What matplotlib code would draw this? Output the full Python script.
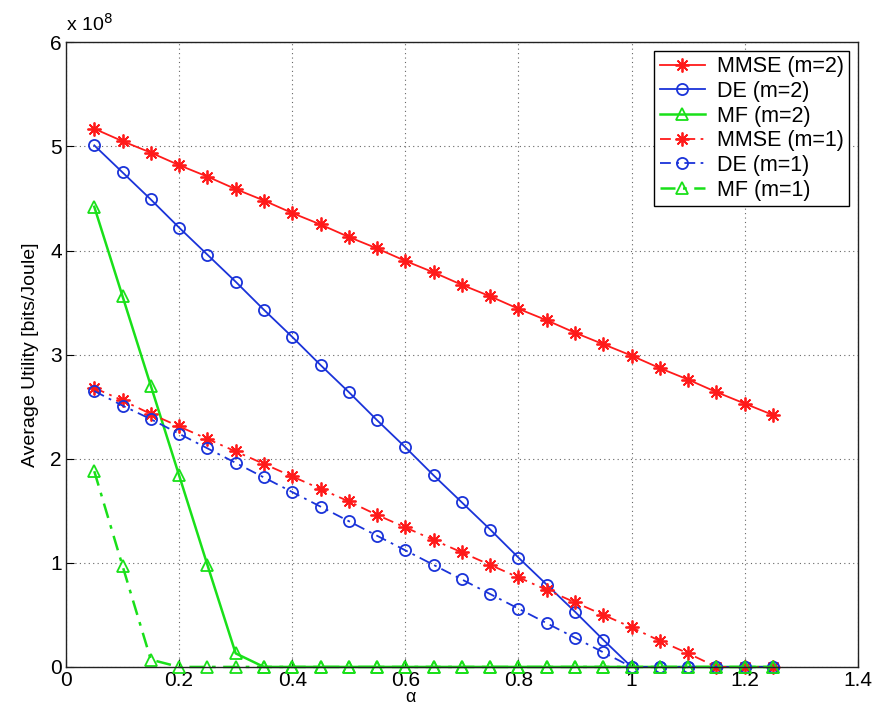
import matplotlib
matplotlib.use("Agg")
import matplotlib.pyplot as plt

plt.rcParams['font.family'] = ['Liberation Sans', 'DejaVu Sans']

alpha = [0.05, 0.10, 0.15, 0.20, 0.25, 0.30, 0.35, 0.40, 0.45, 0.50, 0.55, 0.60, 0.65,
         0.70, 0.75, 0.80, 0.85, 0.90, 0.95, 1.00, 1.05, 1.10, 1.15, 1.20, 1.25]

# values in units of 1e8 bits/Joule
mmse_m2 = [5.17, 5.05, 4.94, 4.82, 4.71, 4.59, 4.48, 4.36, 4.25, 4.13, 4.02, 3.90, 3.79,
           3.67, 3.56, 3.44, 3.33, 3.21, 3.10, 2.99, 2.87, 2.76, 2.64, 2.53, 2.42]
de_m2 = [5.01, 4.75, 4.49, 4.22, 3.96, 3.70, 3.43, 3.17, 2.90, 2.64, 2.37, 2.11, 1.84,
         1.58, 1.32, 1.05, 0.79, 0.53, 0.26, 0.0, 0.0, 0.0, 0.0, 0.0, 0.0]
mf_m2 = [4.42, 3.56, 2.70, 1.84, 0.98, 0.13, 0.0, 0.0, 0.0, 0.0, 0.0, 0.0, 0.0,
         0.0, 0.0, 0.0, 0.0, 0.0, 0.0, 0.0, 0.0, 0.0, 0.0, 0.0, 0.0]
mmse_m1 = [2.68, 2.56, 2.43, 2.31, 2.19, 2.07, 1.95, 1.83, 1.71, 1.59, 1.46, 1.34, 1.22,
           1.10, 0.98, 0.86, 0.74, 0.62, 0.50, 0.38, 0.25, 0.13, 0.0, 0.0, 0.0]
de_m1 = [2.65, 2.51, 2.38, 2.24, 2.10, 1.96, 1.82, 1.68, 1.54, 1.40, 1.26, 1.12, 0.98,
         0.84, 0.70, 0.56, 0.42, 0.28, 0.14, 0.0, 0.0, 0.0, 0.0, 0.0, 0.0]
mf_m1 = [1.88, 0.97, 0.07, 0.0, 0.0, 0.0, 0.0, 0.0, 0.0, 0.0, 0.0, 0.0, 0.0,
         0.0, 0.0, 0.0, 0.0, 0.0, 0.0, 0.0, 0.0, 0.0, 0.0, 0.0, 0.0]

labels = ['MMSE (m=2)', 'DE (m=2)', 'MF (m=2)', 'MMSE (m=1)', 'DE (m=1)', 'MF (m=1)']
xticks = [0, 0.2, 0.4, 0.6, 0.8, 1.0, 1.2, 1.4]
xticklabels = ['0', '0.2', '0.4', '0.6', '0.8', '1', '1.2', '1.4']
yticks = [0, 1, 2, 3, 4, 5, 6]

RED = '#ff1a1a'
BLUE = '#1a33d9'
GREEN = '#19e019'

fig = plt.figure(figsize=(8.73, 7.05), dpi=100)
ax = fig.add_axes([0.0756, 0.054, 0.907, 0.886])

ASTER = (8, 2, 0)
dd = (0, (6, 3, 1.5, 3))
series = [
    (mmse_m2, RED, ASTER, '-', 1.3),
    (de_m2, BLUE, 'o', '-', 1.3),
    (mf_m2, GREEN, '^', '-', 1.8),
    (mmse_m1, RED, ASTER, dd, 1.3),
    (de_m1, BLUE, 'o', dd, 1.3),
    (mf_m1, GREEN, '^', dd, 1.8),
]
for (vals, c, m, ls, lw), lab in zip(series, labels):
    ms = 10 if m == ASTER else 8
    ax.plot(alpha, vals, color=c, marker=m, linestyle=ls, linewidth=lw,
            markersize=ms, markerfacecolor='none',
            markeredgecolor=c, markeredgewidth=1.3, label=lab, clip_on=False)

ax.set_xlim(0, 1.4)
ax.set_ylim(0, 6)
ax.set_xticks(xticks)
ax.set_xticklabels(xticklabels)
ax.set_yticks(yticks)
ax.tick_params(direction='in', length=6, labelsize=15, colors='black', pad=3)
ax.grid(True, linestyle=(0, (1, 3)), color='#666666', linewidth=0.8)
for s in ax.spines.values():
    s.set_color('#222222')
    s.set_linewidth(1.0)

ax.set_xlabel('α', fontsize=13)
ax.xaxis.set_label_coords(0.435, -0.035)
ax.set_ylabel('Average Utility [bits/Joule]', fontsize=14, labelpad=8)
ax.text(0.0, 1.012, 'x 10$^{8}$', transform=ax.transAxes, fontsize=14,
        ha='left', va='bottom')

leg = ax.legend(loc='upper right', fontsize=15.5, frameon=True, fancybox=False,
                edgecolor='black', framealpha=1, handlelength=2.1,
                borderaxespad=0.4, labelspacing=0.17, borderpad=0.25,
                handletextpad=0.55)
leg.get_frame().set_linewidth(1.0)

fig.savefig('out.png', dpi=100)
